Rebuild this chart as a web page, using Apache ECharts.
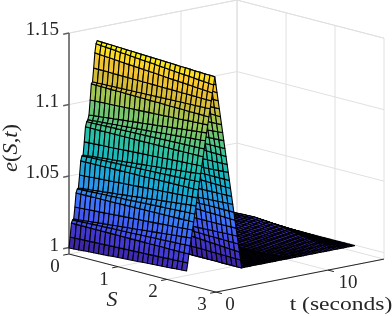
<!DOCTYPE html>
<html><head><meta charset="utf-8">
<style>html,body{margin:0;padding:0;background:#fff}#c{width:392px;height:317px}</style>
<script src="https://cdn.jsdelivr.net/npm/echarts@6/dist/echarts.min.js"></script>
</head><body><div id="c"></div>
<script>
const sValues=[0,0.1,0.2,0.3,0.4,0.5,0.6,0.7,0.8,0.9,1,1.1,1.2,1.3,1.4,1.5,1.6,1.7,1.8,1.9,2,2.1,2.2,2.3,2.4];
const tValues=[0,0.105,0.21,0.315,0.42,0.525,0.63,0.735,0.84,0.945,1.05,1.155,1.26,1.365,1.47,1.575,1.68,1.785,1.89,1.995,2.1,2.205,2.31,2.415,2.52,
2.62,2.72,2.82,2.92,3.02,3.12,3.22,3.32,3.42,3.52,3.62,3.72,3.82,3.92,4.02,4.12,4.22,4.32,4.42,4.52,4.62,4.72,4.82,4.92,
5.17,5.42,5.68,5.93,6.18,6.43,6.68,6.94,7.19,7.44,7.69,7.94,8.20,8.45,8.70,8.95,9.20,9.46,9.71,9.96,10.21,10.46,10.72,10.97,11.22,11.47,11.72,11.98,12.23,12.48,12.73,12.98,13.24,13.49,13.74,13.99,14.24,14.50,14.75,15.0];
// e(S,t), stored as (e-1) in units of 1e-4
const eRise=[
[-3,-1,1,4,6,8,10,12,14,17,19,21,23,25,27,30,32,34,36,38,40,43,45,47,49],
[72,73,75,76,77,79,80,81,83,84,85,87,88,89,91,92,93,95,96,97,99,100,101,103,104],
[168,168,168,168,167,167,167,167,167,167,167,167,166,166,166,166,166,166,166,166,165,165,165,165,165],
[188,189,191,192,193,195,196,197,199,200,201,203,204,205,207,208,209,211,212,213,215,216,217,219,220],
[194,197,201,204,207,211,214,217,221,224,227,231,234,237,241,244,247,251,254,257,261,264,267,271,274],
[275,277,279,282,284,286,288,290,293,295,297,299,302,304,306,308,310,312,315,317,319,321,323,326,328],
[372,372,373,373,374,374,375,375,375,376,376,377,377,377,378,378,379,379,380,380,380,381,381,382,382],
[398,400,401,403,405,406,408,409,411,413,414,416,418,419,421,422,424,426,427,429,431,432,434,435,437],
[404,408,411,415,419,422,426,430,433,437,441,444,448,452,455,459,463,466,470,474,477,481,485,488,492],
[493,495,497,500,502,504,506,508,511,513,515,517,520,522,524,526,528,530,533,535,537,539,541,544,546],
[590,590,591,591,592,592,593,593,593,594,594,595,595,595,596,596,597,597,598,598,598,599,599,600,600],
[623,624,626,627,628,630,631,632,634,635,636,638,639,640,642,643,644,646,647,648,650,651,652,654,655],
[628,631,635,638,642,645,648,652,655,658,662,665,669,672,675,679,682,685,689,692,695,699,702,706,709],
[718,720,722,724,726,727,729,731,733,735,737,739,741,742,744,746,748,750,752,754,756,757,759,761,763],
[822,822,822,822,823,823,823,823,823,823,823,823,823,824,824,824,824,824,824,824,825,825,825,825,825],
[855,856,857,858,859,860,861,862,863,864,865,866,867,868,869,870,871,872,873,874,875,876,877,878,879],
[867,870,873,875,878,881,884,887,889,892,895,898,900,903,906,909,912,914,917,920,923,926,928,931,934],
[900,904,907,911,915,918,922,926,929,933,937,940,944,948,951,955,959,962,966,970,973,977,981,984,988],
[1003,1005,1006,1008,1009,1011,1013,1014,1016,1018,1019,1021,1023,1024,1026,1027,1029,1031,1032,1034,1036,1037,1039,1040,1042],
[1114,1113,1113,1112,1111,1110,1110,1109,1108,1107,1107,1106,1105,1104,1104,1103,1102,1101,1101,1100,1099,1098,1098,1097,1096],
[1127,1128,1129,1130,1131,1132,1133,1134,1135,1136,1137,1138,1139,1140,1141,1142,1143,1144,1145,1146,1147,1148,1149,1150,1151],
[1222,1221,1221,1220,1219,1218,1218,1217,1216,1216,1215,1214,1214,1213,1212,1211,1211,1210,1209,1209,1208,1207,1206,1206,1205],
[1326,1323,1320,1318,1315,1312,1309,1306,1304,1301,1298,1295,1293,1290,1287,1284,1281,1279,1276,1273,1270,1267,1265,1262,1259],
[1388,1385,1382,1379,1376,1372,1369,1366,1363,1360,1357,1354,1351,1347,1344,1341,1338,1335,1332,1329,1326,1322,1319,1316,1313],
[1407,1405,1404,1402,1401,1399,1397,1396,1394,1392,1391,1389,1388,1386,1384,1383,1381,1379,1378,1376,1374,1373,1371,1370,1368]
];
const eFall=[
[1388,1385,1382,1378,1375,1372,1369,1366,1362,1359,1356,1353,1350,1346,1343,1340,1337,1334,1330,1327,1324,1321,1318,1314,1311],
[1326,1323,1320,1317,1314,1311,1308,1305,1302,1299,1296,1293,1290,1287,1284,1281,1278,1275,1272,1269,1266,1263,1260,1257,1254],
[1222,1221,1220,1219,1218,1217,1216,1214,1213,1212,1211,1210,1209,1208,1207,1206,1205,1204,1203,1201,1200,1199,1198,1197,1196],
[1127,1128,1128,1129,1129,1130,1130,1131,1131,1132,1132,1133,1133,1133,1134,1134,1135,1135,1136,1136,1137,1137,1138,1138,1139],
[1114,1113,1111,1110,1109,1107,1106,1105,1103,1102,1101,1099,1098,1097,1095,1094,1093,1091,1090,1089,1087,1086,1085,1083,1082],
[1003,1004,1005,1006,1007,1008,1009,1009,1010,1011,1012,1013,1014,1015,1016,1017,1018,1019,1020,1020,1021,1022,1023,1024,1025],
[900,903,906,908,911,914,917,920,923,925,928,931,934,937,940,943,945,948,951,954,957,959,962,965,968],
[867,869,871,872,874,876,878,880,881,883,885,887,889,890,892,894,896,897,899,901,903,905,906,908,910],
[855,855,855,855,855,855,855,855,854,854,854,854,854,854,854,854,854,854,854,853,853,853,853,853,853],
[822,821,820,819,818,817,816,814,813,812,811,810,809,808,807,806,805,804,803,801,800,799,798,797,796],
[718,719,720,721,722,722,723,724,725,726,727,728,729,729,730,731,732,733,734,735,736,736,737,738,739],
[628,630,633,635,637,639,642,644,646,648,651,653,655,657,660,662,664,666,669,671,673,675,678,680,682],
[623,623,623,623,623,623,623,623,623,623,623,623,624,624,624,624,624,624,624,624,624,624,624,624,624],
[590,589,588,587,586,585,584,583,582,581,580,579,579,578,577,576,575,574,573,572,571,570,569,568,567],
[493,494,494,495,496,497,497,498,499,499,500,501,502,502,503,504,504,505,506,506,507,508,508,509,510],
[404,406,408,410,412,414,416,418,420,422,424,426,429,431,433,435,437,439,441,443,445,447,449,451,453],
[398,398,398,398,398,398,398,398,397,397,397,397,397,397,397,397,397,396,396,396,396,396,396,396,396],
[372,371,369,368,366,365,364,362,361,359,358,356,355,354,352,351,349,348,346,345,344,342,341,339,338],
[275,275,276,276,276,276,277,277,277,277,278,278,278,278,278,279,279,279,280,280,280,280,280,281,281],
[194,195,197,198,199,200,202,203,204,205,207,208,209,210,212,213,214,215,217,218,219,220,222,223,224],
[188,187,186,185,185,184,183,182,181,180,179,178,178,177,176,175,174,173,172,171,171,170,169,168,167],
[168,166,163,161,158,156,153,151,149,146,144,141,139,137,134,132,129,127,124,122,120,117,115,112,110],
[72,71,70,70,69,68,67,66,65,65,64,63,62,61,60,60,59,58,57,56,55,55,54,53,52],
[-3,-3,-3,-3,-3,-3,-3,-3,-3,-3,-3,-3,-4,-4,-4,-4,-4,-4,-5,-5,-5,-5,-5,-5,-5]
];
const eLevel=[-4,-4,-4,-4,-4,-4,-4,-4,-4,-4,-4,-4,-4,-4,-4,-4,-4,-4,-4,-4,-4,-4,-4,-4,-4];
const eH1=[0,1,1,1,1,1,2,2,2,2,1,1,1,1,0,0,0,-1,-1,-2,-2,-3,-3,-4,-4];
const eH2=[5,5,6,6,7,7,7,7,7,7,7,6,6,5,4,4,3,2,1,0,-1,-1,-2,-3,-4];
const eH3=[9,10,10,11,12,12,13,13,13,13,12,11,10,10,9,8,7,5,4,3,1,0,-1,-3,-4];
const eH4=[14,14,15,16,17,18,18,18,19,18,17,16,15,14,13,12,10,8,6,5,3,1,0,-2,-4];
const eH5=[18,19,20,22,22,23,24,24,25,24,22,22,20,19,17,16,14,12,9,7,5,3,1,-2,-4];
const eH6=[22,24,25,27,28,28,29,30,30,29,28,27,25,23,21,19,17,15,12,9,7,4,1,-2,-4];
const eH7=[27,28,30,32,33,34,35,35,36,35,33,32,30,28,25,23,21,18,14,11,8,5,2,-1,-4];
const eH8=[31,33,34,37,38,39,40,41,42,40,38,37,34,32,30,27,24,21,17,14,10,6,3,-1,-4];
const eH9=[36,37,39,42,43,45,46,46,47,46,43,42,39,36,34,31,28,24,19,16,12,8,4,0,-4];
const eH10=[40,42,44,47,48,50,51,52,53,51,48,47,44,41,38,35,31,27,22,18,14,9,5,0,-4];
const eH11=[44,47,49,52,54,55,57,58,59,57,54,52,49,46,42,39,35,30,25,20,15,10,6,0,-4];
const eH12=[49,51,54,57,59,61,62,63,64,62,59,57,54,50,46,43,38,33,27,22,17,12,7,1,-4];
const eH13=[53,56,58,62,64,66,68,69,70,68,64,62,58,55,51,47,42,36,30,25,19,13,8,1,-4];
const eH14=[58,60,63,67,70,72,73,74,76,73,70,67,63,59,55,51,45,39,32,27,21,14,9,2,-4];
const eH15=[62,65,68,72,75,77,79,80,82,79,75,72,68,64,59,55,49,43,35,29,22,16,10,2,-4];
const eH16=[66,70,73,77,80,82,84,85,87,84,80,77,73,68,63,58,52,45,38,31,24,17,10,3,-4];
const eTail=[eLevel,eLevel,eLevel,eLevel,eLevel,eLevel,eLevel,eLevel,eLevel,eLevel,eLevel,eLevel,eLevel,eLevel,eLevel,eLevel,
 eH1,eH2,eH3,eH4,eH5,eH6,eH7,eH8,eH9,eH10,eH11,eH12,eH13,eH14,eH15,eH16,eH14,eH12,eH10,eH8,eH6,eH4,eH2,eLevel];
const eTicks=[1,1.05,1.1,1.15], eTickLabels=['1','1.05','1.1','1.15'];
const sTicks=[0,1,2,3], sTickLabels=['0','1','2','3'];
const tTicks=[0,10], tTickLabels=['0','10'];
const parula=['#3E26A8','#4645EA','#3E71FD','#2A96E8','#11B2D0','#1FBFAE','#4CC68A','#95C757','#D3BB39','#FCC72E','#F9FB0E'];

const eRows=eRise.concat(eFall,eTail);
const eFloor=0.9955,eTop=1.15,sMax=3,tMax=15;
const project=(S,t,e)=>[69+S*49+t*11.2,254+S*12.7-t*2.2-(e-eFloor)*1430];
const depth=(S,t,e)=>-0.733*S/sMax+0.641*t/tMax-0.226*(e-eFloor)/(eTop-eFloor);
const E=v=>1+v/1e4;

const quads=[];
for(let r=0;r<tValues.length-1;r++)for(let j=0;j<sValues.length-1;j++){
 const a=E(eRows[r][j]),b=E(eRows[r][j+1]),c=E(eRows[r+1][j]),d=E(eRows[r+1][j+1]);
 quads.push([sValues[j],sValues[j+1],tValues[r],tValues[r+1],a,b,c,d,Math.min(a,b,c,d),
  depth((sValues[j]+sValues[j+1])/2,(tValues[r]+tValues[r+1])/2,(a+b+c+d)/4)]);
}
quads.sort((p,q)=>q[9]-p[9]);

const GRID=0,AX=1,ZAX=2;
const segs=[];
const seg=(a,b,k)=>segs.push([a[0],a[1],a[2],b[0],b[1],b[2],k]);
eTicks.concat([eTop]).forEach(e=>{seg([0,0,e],[0,tMax,e],GRID);seg([0,tMax,e],[sMax,tMax,e],GRID);});
tTicks.concat([tMax]).forEach(t=>{if(t>0)seg([0,t,eFloor],[0,t,eTop],GRID);seg([0,t,eFloor],[sMax,t,eFloor],GRID);});
sTicks.forEach(S=>{seg([S,tMax,eFloor],[S,tMax,eTop],GRID);seg([S,0,eFloor],[S,tMax,eFloor],GRID);});
seg([0,0,eFloor],[0,0,eTop],ZAX);
seg([0,0,eFloor],[sMax,0,eFloor],AX);
seg([sMax,0,eFloor],[sMax,tMax,eFloor],AX);
eTicks.forEach(e=>seg([0,0,e],[0,-0.52,e],ZAX));
sTicks.forEach(S=>seg([S,0,eFloor],[S,-0.52,eFloor],AX));
tTicks.forEach(t=>seg([sMax,t,eFloor],[sMax+0.12,t,eFloor],AX));

const FONT='"Liberation Serif","Times New Roman",serif',TC='#262626';
const texts=[];
eTicks.forEach((e,i)=>texts.push({at:[0,0,e],dx:-10,dy:i?-3:-2,text:eTickLabels[i],align:'right',size:19}));
sTicks.forEach((S,i)=>texts.push({at:[S,0,eFloor],dx:-14,dy:13,text:sTickLabels[i],align:'center',size:19}));
tTicks.forEach((t,i)=>texts.push({at:[sMax,t,eFloor],dx:i?20:14,dy:13,text:tTickLabels[i],align:'center',size:19}));
const fixedTexts=[
 {px:[341,305],text:'t (seconds)',align:'center',scaleX:1.24,size:19},
 {px:[112,300],text:'S',align:'center',italic:true,size:22},
 {px:[12,148],text:'{i|e}({i|S},{i|t})',align:'center',rotation:Math.PI/2,rich:true,scaleX:1.12,size:20}
];
const allTexts=texts.concat(fixedTexts);

const chart=echarts.init(document.getElementById('c'),null,{renderer:'canvas'});
chart.setOption({
 animation:false,
 grid:{left:0,top:0,right:0,bottom:0},
 xAxis:{type:'value',min:0,max:392,show:false},
 yAxis:{type:'value',min:0,max:317,inverse:true,show:false},
 visualMap:{show:false,type:'continuous',seriesIndex:1,dimension:8,min:1.0,max:1.14,inRange:{color:parula}},
 series:[
 {type:'custom',coordinateSystem:'cartesian2d',silent:true,clip:false,progressive:0,z:1,
  data:segs,
  renderItem(p,api){
   const a=api.coord(project(api.value(0),api.value(1),api.value(2))),b=api.coord(project(api.value(3),api.value(4),api.value(5)));
   const k=api.value(6);
   return {type:'line',shape:{x1:a[0],y1:a[1],x2:b[0],y2:b[1]},z2:k,
    style:{stroke:k===GRID?'#e0e0e0':k===AX?'#262626':'#5f5f5f',lineWidth:k===ZAX?1.6:1}};
  }},
 {type:'custom',coordinateSystem:'cartesian2d',silent:true,clip:false,progressive:0,z:2,
  data:quads,
  renderItem(p,api){
   const v=i=>api.value(i);
   const P=(S,t,e)=>api.coord(project(S,t,e));
   return {type:'polygon',shape:{points:[P(v(0),v(2),v(4)),P(v(1),v(2),v(5)),P(v(1),v(3),v(7)),P(v(0),v(3),v(6))]},
    style:{fill:api.visual('color'),stroke:'#000',lineWidth:1.1,lineJoin:'round'}};
  }},
 {type:'custom',coordinateSystem:'cartesian2d',silent:true,clip:false,progressive:0,z:3,
  data:allTexts.map((d,i)=>[i]),
  renderItem(p,api){
   const d=allTexts[p.dataIndex];
   const c=d.px?d.px:(q=>[q[0]+d.dx,q[1]+d.dy])(api.coord(project(d.at[0],d.at[1],d.at[2])));
   const style={text:d.text,fill:TC,font:(d.italic?'italic ':'')+d.size+'px '+FONT,align:d.align,verticalAlign:'middle'};
   if(d.rich)style.rich={i:{fontStyle:'italic',fontSize:d.size,fontFamily:FONT,fill:TC}};
   return {type:'text',x:c[0],y:c[1],rotation:d.rotation||0,scaleX:d.scaleX||1,style};
  }}
 ]
});
</script></body></html>
